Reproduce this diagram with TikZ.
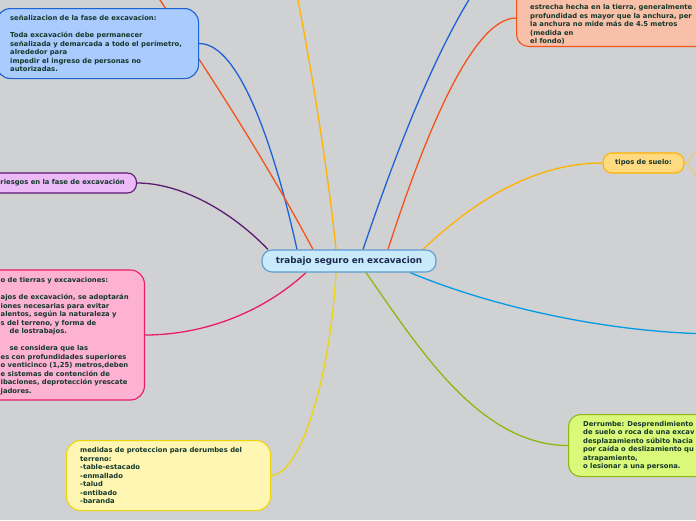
\documentclass[tikz,border=0pt]{standalone}
\usepackage{fontspec}
\setmainfont{DejaVu Sans}
\usetikzlibrary{backgrounds}
\definecolor{fondo}{HTML}{D0D1D3}
\definecolor{tinta}{HTML}{15382B}
\definecolor{tintac}{HTML}{1B2A4E}
\definecolor{centrof}{HTML}{C8EAFB}
\definecolor{centrob}{HTML}{5E9BD1}
\definecolor{azulf}{HTML}{A9CBFD}
\definecolor{azulb}{HTML}{1C62D6}
\definecolor{salmonf}{HTML}{F9C0A9}
\definecolor{salmonb}{HTML}{F2541B}
\definecolor{lilaf}{HTML}{EBBAF7}
\definecolor{lilab}{HTML}{5C1A72}
\definecolor{rosaf}{HTML}{FDB1D3}
\definecolor{rosab}{HTML}{E81D62}
\definecolor{amarf}{HTML}{FEF6B2}
\definecolor{amarb}{HTML}{EDD50B}
\definecolor{limaf}{HTML}{DAF97A}
\definecolor{limab}{HTML}{8DB814}
\definecolor{naranf}{HTML}{FFDA80}
\definecolor{naranb}{HTML}{FFB300}
\definecolor{cian}{HTML}{039BE5}
\definecolor{suelob}{HTML}{F6C65B}
\begin{document}
\begin{tikzpicture}[x=1pt,y=-1pt,
  caja/.style={rounded corners=14pt,line width=1.1pt,inner sep=0pt},
  texto/.style={inner sep=0pt,align=left,text=tinta,font=\fontsize{6.8}{8.5}\selectfont\bfseries},
  rama/.style={line width=1.3pt}]
\useasboundingbox (0,0) rectangle (696,520);
\clip (0,0) rectangle (696,520);
\node[caja,fill=centrof,draw=centrob,rounded corners=10pt,minimum width=174pt,minimum height=22pt,text=tintac,font=\fontsize{8.8}{10}\selectfont\bfseries] (centro) at (349,261) {trabajo seguro en excavacion};
\node[caja,fill=azulf,draw=azulb,minimum width=202pt,minimum height=70pt,anchor=north west] (senal) at (-4,8) {};
\node[texto,anchor=west] (senaltx) at ([xshift=14pt]senal.west) {señalizacion de la fase de excavacion:\\[8.5pt]Toda excavación debe permanecer\\señalizada y demarcada a todo el perímetro,\\alrededor para\\impedir el ingreso de personas no\\autorizadas.};
\node[caja,fill=salmonf,draw=salmonb,rounded corners=12pt,minimum width=220pt,minimum height=90pt,anchor=south west] (zanja) at (516,47) {};
\node[texto,anchor=south west] (zanjatx) at (530,45) {estrecha hecha en la tierra, generalmente\\profundidad es mayor que la anchura, per\\la anchura no mide más de 4.5 metros\\(medida en\\el fondo)};
\node[caja,fill=lilaf,draw=lilab,rounded corners=9pt,minimum width=180pt,minimum height=20pt,anchor=east] (riesgo) at (137,183) {};
\node[texto,anchor=east] (riesgotx) at (125,183) {riesgos en la fase de excavación};
\node[caja,fill=rosaf,draw=rosab,minimum width=175pt,minimum height=130pt,anchor=east] (movim) at (145,335) {};
\node[texto,anchor=west] (movimtx) at (0.5,336) {o de tierras y excavaciones:\\[8.5pt]ajos de excavación, se adoptarán\\iones necesarias para evitar\\alentos, según la naturaleza y\\s del terreno, y forma de\\\hspace*{9pt}de lostrabajos.\\[8.5pt]\hspace*{9pt}se considera que las\\es con profundidades superiores\\o venticinco (1,25) metros,deben\\e sistemas de contención de\\ibaciones, deprotección yrescate\\jadores.};
\node[caja,fill=amarf,draw=amarb,minimum width=204pt,minimum height=70pt,anchor=north west] (medida) at (66,440) {};
\node[texto,anchor=west] (medidatx) at ([xshift=14pt]medida.west) {medidas de proteccion para derumbes del\\terreno:\\-table-estacado\\-enmallado\\-talud\\-entibado\\-baranda};
\node[caja,fill=limaf,draw=limab,rounded corners=12pt,minimum width=160pt,minimum height=62pt,anchor=north west] (derrumbe) at (568,414) {};
\node[texto,anchor=west] (derrumbetx) at ([xshift=15pt]derrumbe.west) {Derrumbe: Desprendimiento\\de suelo o roca de una excav\\desplazamiento súbito hacia\\por caída o deslizamiento qu\\atrapamiento,\\o lesionar a una persona.};
\node[caja,fill=naranf,draw=naranb,rounded corners=9pt,minimum width=81pt,minimum height=20pt,text=tinta,font=\fontsize{6.8}{8.5}\selectfont\bfseries] (tipos) at (643.5,163) {tipos de suelo:};
\coordinate (fuera1) at (150,-15);
\coordinate (fuera2) at (296,-10);
\coordinate (fuera3) at (475,-10);
\coordinate (fuera4) at (720,334);
\coordinate (suelo1) at (704,146);
\coordinate (suelo2) at (704,181);
\begin{scope}[on background layer]
\fill[fondo] (0,0) rectangle (696,520);
\draw[rama,azulb] ([xshift=-52pt]centro.north) .. controls (275,150) and (240,43) .. (senal.east);
\draw[rama,salmonb] ([xshift=-36pt]centro.north) .. controls (260,150) and (200,60) .. (fuera1);
\draw[rama,naranb] ([xshift=-13pt]centro.north) .. controls (328,170) and (310,60) .. (fuera2);
\draw[rama,azulb] ([xshift=14pt]centro.north) .. controls (390,170) and (430,60) .. (fuera3);
\draw[rama,salmonb] ([xshift=39pt]centro.north) .. controls (420,150) and (470,18) .. ([yshift=29pt]zanja.south west);
\draw[rama,naranb] ([xshift=74pt]centro.north) .. controls (480,195) and (540,163) .. (tipos.west);
\draw[rama,cian] ([xshift=61pt]centro.south) .. controls (500,310) and (620,334) .. (fuera4);
\draw[rama,limab] ([xshift=17pt]centro.south) .. controls (420,350) and (480,445) .. (derrumbe.west);
\draw[rama,amarb] ([xshift=-13pt]centro.south) .. controls (330,380) and (300,475) .. (medida.east);
\draw[rama,rosab] ([xshift=-43pt]centro.south) .. controls (260,315) and (200,335) .. (movim.east);
\draw[rama,lilab] ([xshift=-81pt]centro.north) .. controls (230,210) and (180,183) .. (riesgo.east);
\draw[line width=0.8pt,suelob] (tipos.east) .. controls (690,163) and (692,150) .. (suelo1);
\draw[line width=0.8pt,suelob] (tipos.east) .. controls (690,163) and (692,176) .. (suelo2);
\end{scope}
\end{tikzpicture}
\end{document}
